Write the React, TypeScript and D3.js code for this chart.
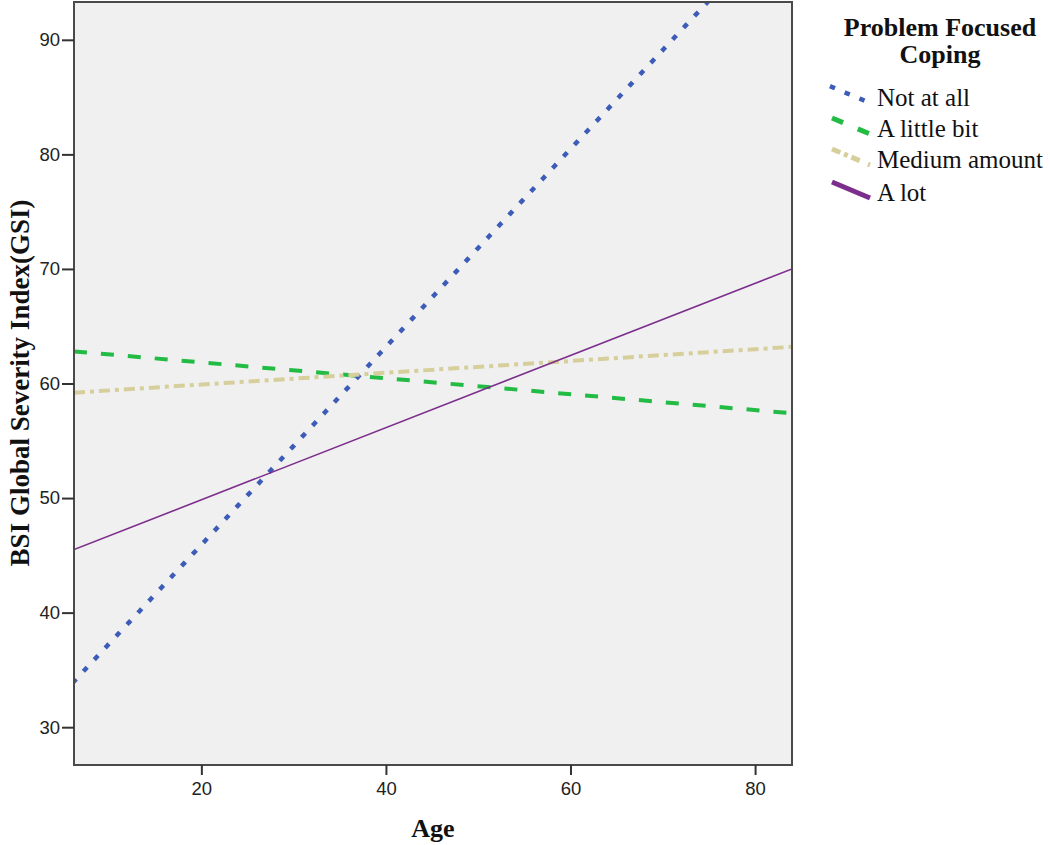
import { useEffect, useRef } from "react";
import * as d3 from "d3";

// fitted line endpoints (age at edges of the plot)
const ageRange = [6.2, 84];
const groups = ["Not at all", "A little bit", "Medium amount", "A lot"];
const startValues = [34.0, 62.8, 59.2, 45.5];
const endValues = [101.2, 57.4, 63.2, 70.0];
const xTicks = [20, 40, 60, 80];
const yTicks = [30, 40, 50, 60, 70, 80, 90];

const colors = ["#3d5cb8", "#22bb44", "#d6cf9b", "#7d2e8c"];
const dashes = ["1 15", "13 14", "11 5 4 5", null];
const widths = [4.5, 4, 4, 1.6];
const legendWidths = [4.5, 5, 5, 5];

export default function App() {
  const svgRef = useRef<SVGSVGElement>(null);

  useEffect(() => {
    const svg = d3.select(svgRef.current);
    svg.selectAll("*").remove();

    const left = 74;
    const top = 2;
    const right = 792;
    const bottom = 765;

    const x = d3.scaleLinear().domain(ageRange).range([left, right]);
    const y = d3.scaleLinear().domain([26.7, 93.3]).range([bottom, top]);

    svg
      .append("rect")
      .attr("x", left)
      .attr("y", top)
      .attr("width", right - left)
      .attr("height", bottom - top)
      .attr("fill", "#f0f0f0");

    svg
      .append("clipPath")
      .attr("id", "plot-clip")
      .append("rect")
      .attr("x", left)
      .attr("y", top)
      .attr("width", right - left)
      .attr("height", bottom - top);

    // lines
    const line = d3
      .line<[number, number]>()
      .x((d) => x(d[0]))
      .y((d) => y(d[1]));

    const lines = svg.append("g").attr("clip-path", "url(#plot-clip)");
    groups.forEach((g, i) => {
      const pts: [number, number][] = [
        [ageRange[0], startValues[i]],
        [ageRange[1], endValues[i]],
      ];
      const p = lines
        .append("path")
        .attr("d", line(pts))
        .attr("fill", "none")
        .attr("stroke", colors[i])
        .attr("stroke-width", widths[i]);
      if (dashes[i]) p.attr("stroke-dasharray", dashes[i]);
      if (i === 0) p.attr("stroke-linecap", "square");
    });

    // frame
    svg
      .append("rect")
      .attr("x", left)
      .attr("y", top)
      .attr("width", right - left)
      .attr("height", bottom - top)
      .attr("fill", "none")
      .attr("stroke", "#4a4a4a")
      .attr("stroke-width", 2);

    // axes
    const xAxis = svg
      .append("g")
      .attr("transform", `translate(0,${bottom})`)
      .call(d3.axisBottom(x).tickValues(xTicks).tickSize(10).tickPadding(7));
    const yAxis = svg
      .append("g")
      .attr("transform", `translate(${left},0)`)
      .call(d3.axisLeft(y).tickValues(yTicks).tickSize(12).tickPadding(2));

    [xAxis, yAxis].forEach((a) => {
      a.select(".domain").remove();
      a.selectAll(".tick line").attr("stroke", "#333").attr("stroke-width", 2);
      a.selectAll(".tick text")
        .attr("fill", "#222")
        .style("font-family", "'Liberation Sans', Arial, sans-serif")
        .style("font-size", "18.5px");
    });

    const serif = "'Liberation Serif', 'Times New Roman', serif";

    svg
      .append("text")
      .attr("x", (left + right) / 2)
      .attr("y", 837)
      .attr("text-anchor", "middle")
      .style("font-family", serif)
      .style("font-weight", "bold")
      .style("font-size", "26px")
      .attr("fill", "#111")
      .text("Age");

    svg
      .append("text")
      .attr("transform", `translate(29,383) rotate(-90)`)
      .attr("text-anchor", "middle")
      .style("font-family", serif)
      .style("font-weight", "bold")
      .style("font-size", "27px")
      .attr("fill", "#111")
      .text("BSI Global Severity Index(GSI)");

    // legend
    const legend = svg.append("g");
    ["Problem Focused", "Coping"].forEach((t, i) => {
      legend
        .append("text")
        .attr("x", 940)
        .attr("y", 36 + i * 27)
        .attr("text-anchor", "middle")
        .style("font-family", serif)
        .style("font-weight", "bold")
        .style("font-size", "26px")
        .attr("fill", "#111")
        .text(t);
    });

    const itemY = [106, 137, 168, 201];
    groups.forEach((g, i) => {
      const cy = itemY[i];
      const sym = legend
        .append("line")
        .attr("x1", 832)
        .attr("y1", cy - 19)
        .attr("x2", 870)
        .attr("y2", cy - 3)
        .attr("stroke", colors[i])
        .attr("stroke-width", legendWidths[i]);
      if (i === 0) sym.attr("stroke-dasharray", "1 15").attr("stroke-linecap", "square");
      if (i === 1) sym.attr("stroke-dasharray", "12 16");
      if (i === 2) sym.attr("stroke-dasharray", "9 4 4 4 9");
      legend
        .append("text")
        .attr("x", 877)
        .attr("y", cy)
        .style("font-family", serif)
        .style("font-size", "25px")
        .attr("fill", "#111")
        .text(g);
    });
  }, []);

  return (
    <svg
      ref={svgRef}
      width={1050}
      height={845}
      style={{ position: "absolute", left: 0, top: 0, background: "#fff" }}
    />
  );
}
